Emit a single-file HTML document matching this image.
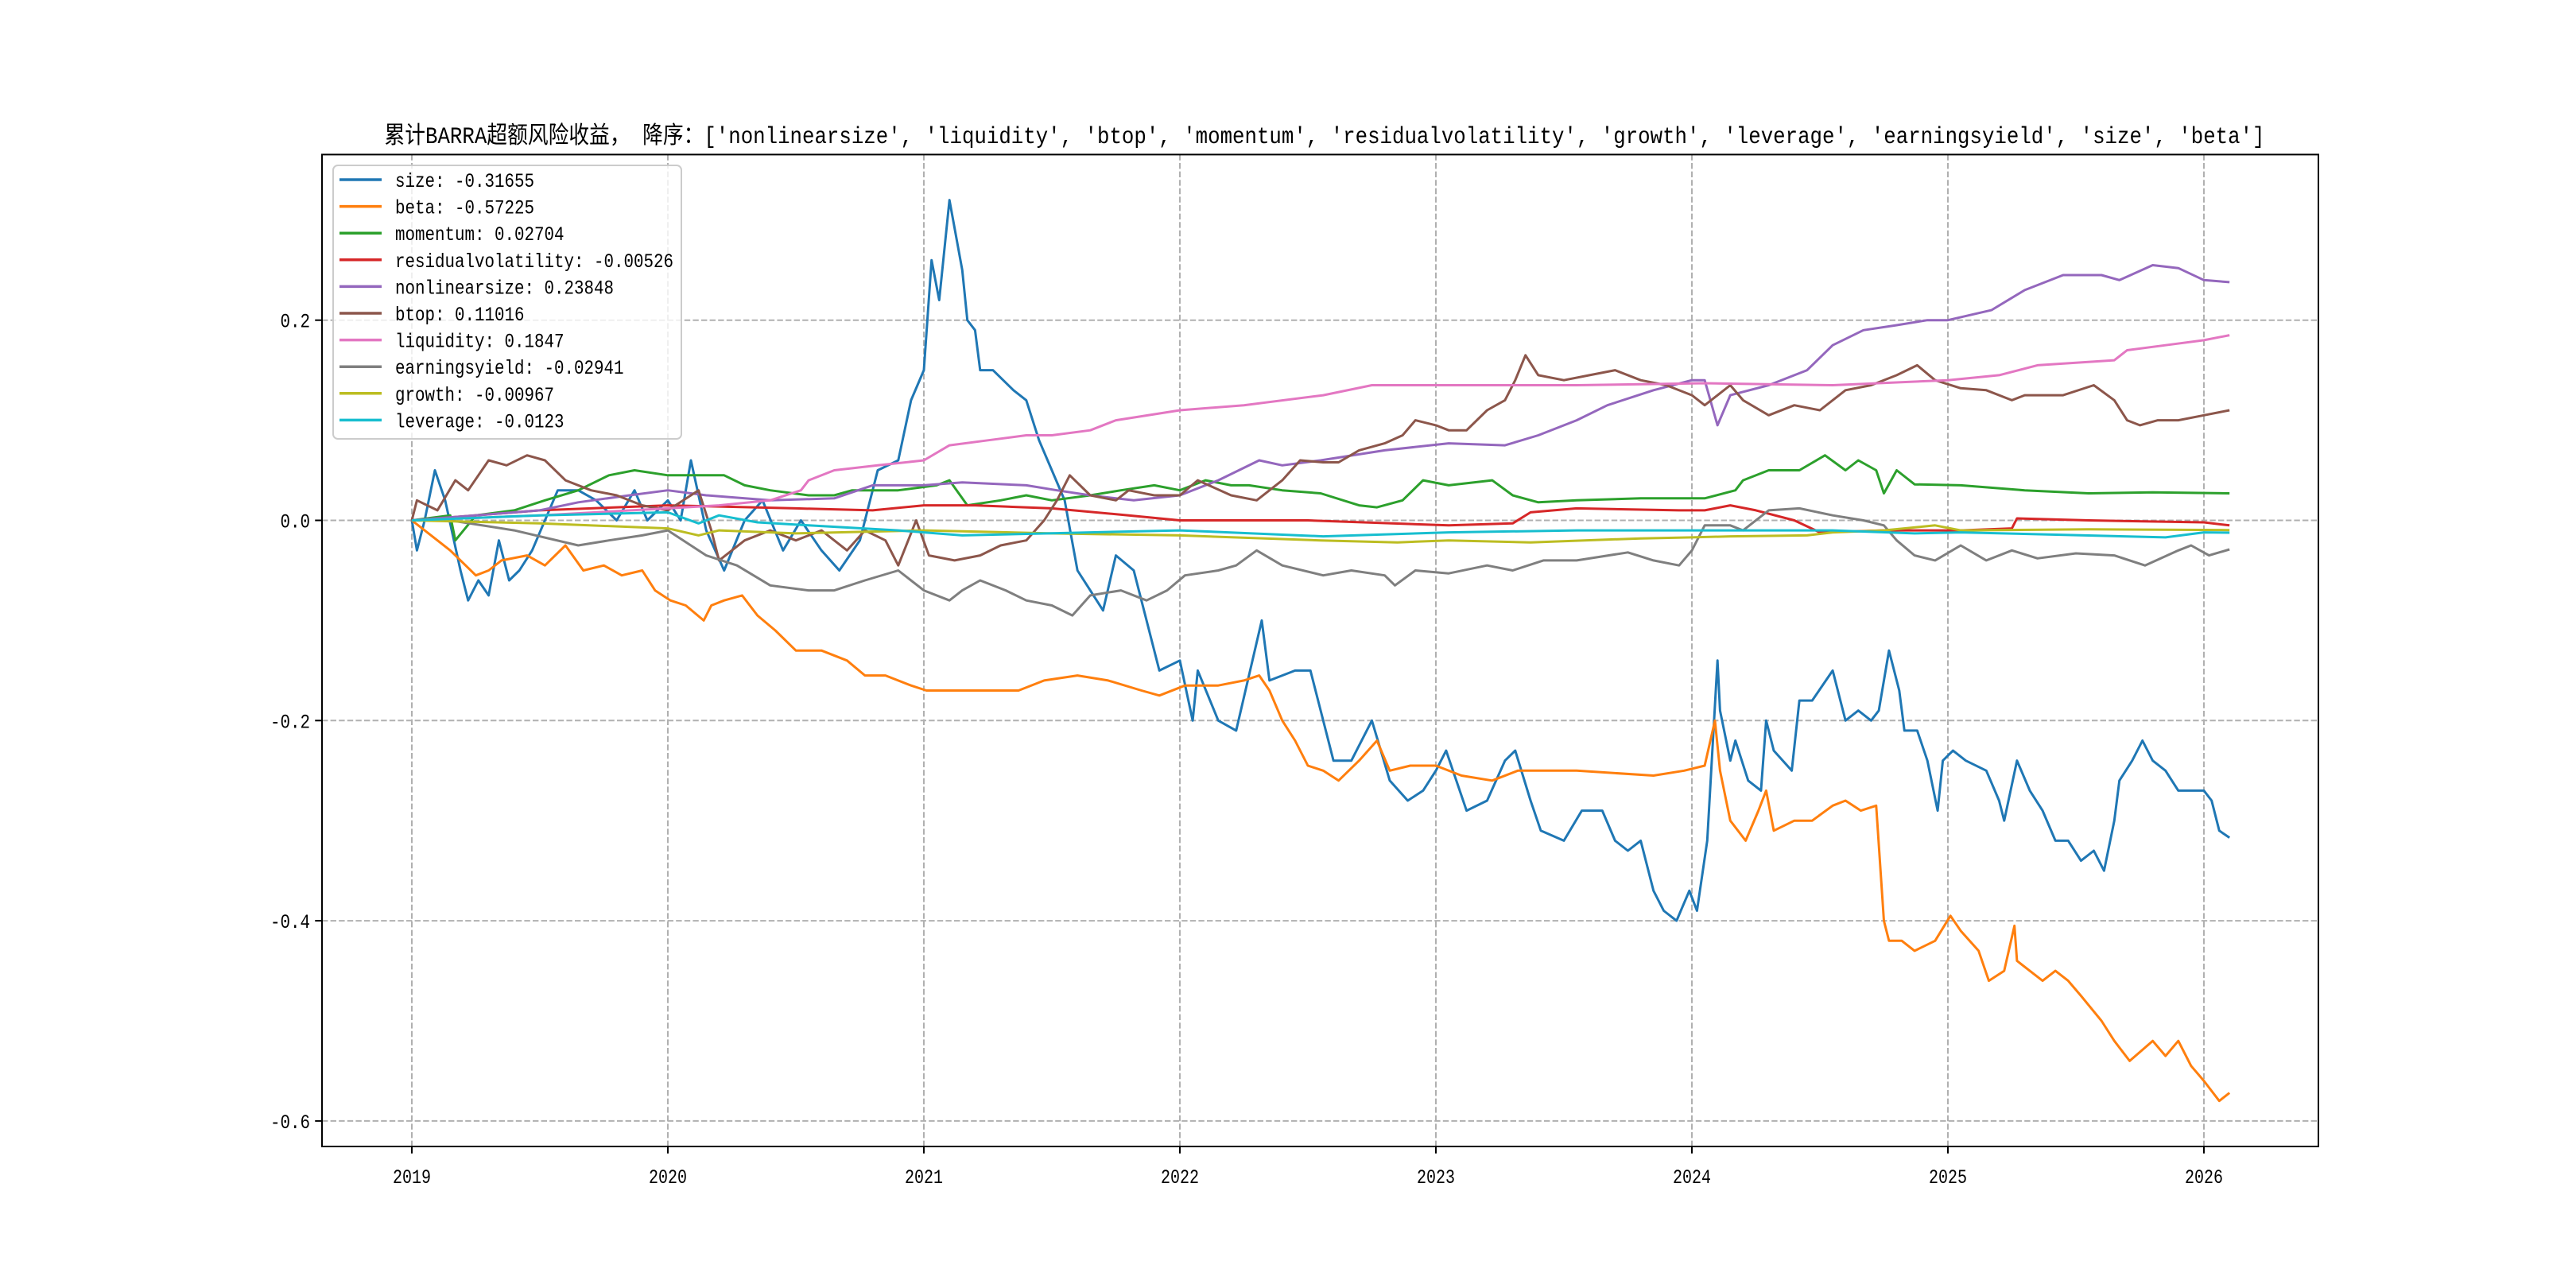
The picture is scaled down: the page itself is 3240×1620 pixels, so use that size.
<!DOCTYPE html>
<html><head><meta charset="utf-8"><style>
html,body{margin:0;padding:0;background:#fff;}
svg{display:block;}
text{font-family:"Liberation Mono","WenQuanYi Zen Hei","Noto Sans CJK SC",monospace;}
</style></head><body>
<svg id="chart" width="3240" height="1620" viewBox="0 0 3240 1620" xmlns="http://www.w3.org/2000/svg">
<rect x="0" y="0" width="3240" height="1620" fill="#fff"/>
<g id="grid"></g>
<g id="series"></g>
<rect x="405" y="194.4" width="2511" height="1247.6" fill="none" stroke="#000" stroke-width="2"/>
<g id="ticks"></g>
<text x="1666" y="180" font-size="30" text-anchor="middle" textLength="2365" lengthAdjust="spacingAndGlyphs">累计BARRA超额风险收益， 降序：['nonlinearsize', 'liquidity', 'btop', 'momentum', 'residualvolatility', 'growth', 'leverage', 'earningsyield', 'size', 'beta']</text>
<g id="legend"></g>
</svg>
<script>
const xTicks = [2019,2020,2021,2022,2023,2024,2025,2026];
const yTicks = [-0.6,-0.4,-0.2,0.0,0.2];
const yTickLabels = ['-0.6','-0.4','-0.2','0.0','0.2'];
const seriesNames = ['size','beta','momentum','residualvolatility','nonlinearsize','btop','liquidity','earningsyield','growth','leverage'];
const seriesColors = ['#1f77b4','#ff7f0e','#2ca02c','#d62728','#9467bd','#8c564b','#e377c2','#7f7f7f','#bcbd22','#17becf'];
const finalLabels = ['-0.31655','-0.57225','0.02704','-0.00526','0.23848','0.11016','0.1847','-0.02941','-0.00967','-0.0123'];

const sizeT = [2019,2019.02,2019.05,2019.09,2019.13,2019.19,2019.22,2019.26,2019.3,2019.34,2019.38,2019.42,2019.47,2019.52,2019.57,2019.65,2019.72,2019.8,2019.87,2019.92,2020.0,2020.05,2020.09,2020.15,2020.22,2020.3,2020.37,2020.45,2020.52,2020.6,2020.67,2020.75,2020.82,2020.9,2020.95,2021.0,2021.03,2021.06,2021.1,2021.15,2021.17,2021.2,2021.22,2021.27,2021.35,2021.4,2021.45,2021.5,2021.55,2021.6,2021.65,2021.7,2021.75,2021.82,2021.87,2021.92,2022.0,2022.05,2022.07,2022.15,2022.22,2022.32,2022.35,2022.45,2022.51,2022.56,2022.6,2022.67,2022.75,2022.82,2022.89,2022.95,2023.0,2023.04,2023.12,2023.2,2023.27,2023.31,2023.37,2023.41,2023.5,2023.57,2023.65,2023.7,2023.75,2023.8,2023.85,2023.89,2023.94,2023.99,2024.02,2024.06,2024.1,2024.11,2024.15,2024.17,2024.22,2024.27,2024.29,2024.32,2024.39,2024.42,2024.47,2024.55,2024.6,2024.65,2024.7,2024.73,2024.77,2024.81,2024.83,2024.88,2024.92,2024.96,2024.98,2025.02,2025.07,2025.15,2025.2,2025.22,2025.27,2025.32,2025.37,2025.42,2025.47,2025.52,2025.57,2025.61,2025.65,2025.67,2025.72,2025.76,2025.8,2025.85,2025.9,2025.95,2026.0,2026.03,2026.06,2026.1];
const sizeV = [0,-0.03,0.0,0.05,0.02,-0.05,-0.08,-0.06,-0.075,-0.02,-0.06,-0.05,-0.03,0.0,0.03,0.03,0.02,0.0,0.03,0.0,0.02,0.0,0.06,-0.01,-0.05,-0.0,0.02,-0.03,0.0,-0.03,-0.05,-0.02,0.05,0.06,0.12,0.15,0.26,0.22,0.32,0.25,0.2,0.19,0.15,0.15,0.13,0.12,0.08,0.05,0.02,-0.05,-0.07,-0.09,-0.035,-0.05,-0.1,-0.15,-0.14,-0.2,-0.15,-0.2,-0.21,-0.1,-0.16,-0.15,-0.15,-0.2,-0.24,-0.24,-0.2,-0.26,-0.28,-0.27,-0.25,-0.23,-0.29,-0.28,-0.24,-0.23,-0.28,-0.31,-0.32,-0.29,-0.29,-0.32,-0.33,-0.32,-0.37,-0.39,-0.4,-0.37,-0.39,-0.32,-0.14,-0.19,-0.24,-0.22,-0.26,-0.27,-0.2,-0.23,-0.25,-0.18,-0.18,-0.15,-0.2,-0.19,-0.2,-0.19,-0.13,-0.17,-0.21,-0.21,-0.24,-0.29,-0.24,-0.23,-0.24,-0.25,-0.28,-0.3,-0.24,-0.27,-0.29,-0.32,-0.32,-0.34,-0.33,-0.35,-0.3,-0.26,-0.24,-0.22,-0.24,-0.25,-0.27,-0.27,-0.27,-0.28,-0.31,-0.317];

const betaT = [2019,2019.05,2019.15,2019.25,2019.3,2019.35,2019.45,2019.52,2019.6,2019.67,2019.75,2019.82,2019.9,2019.95,2020.01,2020.07,2020.14,2020.17,2020.22,2020.29,2020.35,2020.42,2020.5,2020.6,2020.7,2020.77,2020.85,2020.95,2021.01,2021.12,2021.2,2021.37,2021.47,2021.6,2021.72,2021.85,2021.92,2022.02,2022.15,2022.25,2022.31,2022.35,2022.4,2022.45,2022.5,2022.56,2022.62,2022.7,2022.77,2022.82,2022.9,2023.0,2023.1,2023.22,2023.32,2023.55,2023.85,2023.97,2024.05,2024.09,2024.11,2024.15,2024.21,2024.26,2024.29,2024.32,2024.4,2024.47,2024.55,2024.6,2024.66,2024.72,2024.75,2024.77,2024.82,2024.87,2024.95,2025.01,2025.05,2025.12,2025.16,2025.22,2025.26,2025.27,2025.32,2025.37,2025.42,2025.47,2025.52,2025.6,2025.65,2025.71,2025.8,2025.85,2025.9,2025.95,2026.0,2026.06,2026.1];
const betaV = [0,-0.01,-0.03,-0.055,-0.05,-0.04,-0.035,-0.045,-0.025,-0.05,-0.045,-0.055,-0.05,-0.07,-0.08,-0.085,-0.1,-0.085,-0.08,-0.075,-0.095,-0.11,-0.13,-0.13,-0.14,-0.155,-0.155,-0.165,-0.17,-0.17,-0.17,-0.17,-0.16,-0.155,-0.16,-0.17,-0.175,-0.165,-0.165,-0.16,-0.155,-0.17,-0.2,-0.22,-0.245,-0.25,-0.26,-0.24,-0.22,-0.25,-0.245,-0.245,-0.255,-0.26,-0.25,-0.25,-0.255,-0.25,-0.245,-0.2,-0.25,-0.3,-0.32,-0.29,-0.27,-0.31,-0.3,-0.3,-0.285,-0.28,-0.29,-0.285,-0.4,-0.42,-0.42,-0.43,-0.42,-0.395,-0.41,-0.43,-0.46,-0.45,-0.405,-0.44,-0.45,-0.46,-0.45,-0.46,-0.475,-0.5,-0.52,-0.54,-0.52,-0.535,-0.52,-0.545,-0.56,-0.58,-0.572];

const momentumT = [2019,2019.15,2019.17,2019.25,2019.4,2019.52,2019.65,2019.77,2019.87,2020.0,2020.1,2020.22,2020.3,2020.4,2020.55,2020.65,2020.72,2020.9,2021.05,2021.1,2021.17,2021.3,2021.4,2021.5,2021.65,2021.77,2021.9,2022.0,2022.1,2022.2,2022.27,2022.4,2022.55,2022.7,2022.77,2022.87,2022.95,2023.05,2023.22,2023.3,2023.4,2023.55,2023.8,2024.05,2024.17,2024.2,2024.3,2024.42,2024.52,2024.6,2024.65,2024.72,2024.75,2024.8,2024.87,2025.05,2025.3,2025.55,2025.8,2026.1];
const momentumV = [0,0.005,-0.02,0.005,0.01,0.02,0.03,0.045,0.05,0.045,0.045,0.045,0.035,0.03,0.025,0.025,0.03,0.03,0.035,0.04,0.015,0.02,0.025,0.02,0.025,0.03,0.035,0.03,0.04,0.035,0.035,0.03,0.027,0.015,0.013,0.02,0.04,0.035,0.04,0.025,0.018,0.02,0.022,0.022,0.03,0.04,0.05,0.05,0.065,0.05,0.06,0.05,0.027,0.05,0.036,0.035,0.03,0.027,0.028,0.027];

const resvolT = [2019,2019.5,2020.0,2020.5,2020.8,2021.0,2021.2,2021.5,2021.8,2022.0,2022.5,2023.05,2023.3,2023.37,2023.55,2023.95,2024.05,2024.15,2024.25,2024.4,2024.5,2024.75,2025.05,2025.25,2025.27,2025.55,2026.0,2026.1];
const resvolV = [0,0.01,0.015,0.012,0.01,0.015,0.015,0.012,0.005,0.0,0.0,-0.005,-0.003,0.008,0.012,0.01,0.01,0.015,0.01,0.0,-0.012,-0.01,-0.01,-0.008,0.002,0.0,-0.002,-0.005];

const nlsizeT = [2019,2019.5,2019.65,2019.85,2020.0,2020.15,2020.4,2020.65,2020.8,2021.0,2021.15,2021.4,2021.52,2021.65,2021.82,2022.0,2022.15,2022.31,2022.4,2022.55,2022.8,2023.05,2023.27,2023.4,2023.55,2023.67,2023.85,2024.0,2024.05,2024.1,2024.15,2024.3,2024.45,2024.55,2024.67,2024.8,2024.92,2025.0,2025.17,2025.3,2025.45,2025.6,2025.67,2025.8,2025.9,2026.0,2026.1];
const nlsizeV = [0,0.01,0.018,0.025,0.03,0.025,0.02,0.022,0.035,0.035,0.038,0.035,0.03,0.025,0.02,0.025,0.04,0.06,0.055,0.06,0.07,0.077,0.075,0.085,0.1,0.115,0.13,0.14,0.14,0.095,0.125,0.135,0.15,0.175,0.19,0.195,0.2,0.2,0.21,0.23,0.245,0.245,0.24,0.255,0.252,0.24,0.238];

const btopT = [2019,2019.02,2019.1,2019.17,2019.22,2019.3,2019.37,2019.45,2019.52,2019.6,2019.7,2019.8,2019.9,2020.0,2020.12,2020.17,2020.2,2020.3,2020.4,2020.5,2020.6,2020.7,2020.77,2020.85,2020.9,2020.97,2021.02,2021.12,2021.22,2021.3,2021.4,2021.47,2021.52,2021.57,2021.65,2021.75,2021.8,2021.9,2022.0,2022.07,2022.2,2022.3,2022.4,2022.47,2022.56,2022.62,2022.7,2022.8,2022.87,2022.92,2023.0,2023.05,2023.12,2023.2,2023.27,2023.31,2023.35,2023.4,2023.5,2023.6,2023.7,2023.8,2023.9,2024.0,2024.05,2024.15,2024.2,2024.3,2024.4,2024.5,2024.6,2024.7,2024.8,2024.88,2024.95,2025.05,2025.15,2025.25,2025.3,2025.45,2025.57,2025.65,2025.7,2025.75,2025.82,2025.9,2026.0,2026.1];
const btopV = [0,0.02,0.01,0.04,0.03,0.06,0.055,0.065,0.06,0.04,0.03,0.025,0.015,0.01,0.03,-0.01,-0.04,-0.02,-0.01,-0.02,-0.01,-0.03,-0.01,-0.02,-0.045,0.0,-0.035,-0.04,-0.035,-0.025,-0.02,0.0,0.02,0.045,0.025,0.02,0.03,0.025,0.025,0.04,0.025,0.02,0.04,0.06,0.058,0.058,0.07,0.077,0.085,0.1,0.095,0.09,0.09,0.11,0.12,0.14,0.165,0.145,0.14,0.145,0.15,0.14,0.135,0.125,0.115,0.135,0.12,0.105,0.115,0.11,0.13,0.135,0.145,0.155,0.14,0.132,0.13,0.12,0.125,0.125,0.135,0.12,0.1,0.095,0.1,0.1,0.105,0.11];

const liqT = [2019,2019.5,2020.0,2020.2,2020.4,2020.52,2020.55,2020.65,2020.82,2021.0,2021.1,2021.25,2021.4,2021.5,2021.65,2021.75,2022.0,2022.25,2022.56,2022.75,2023.0,2023.55,2024.05,2024.55,2025.0,2025.2,2025.35,2025.65,2025.7,2025.85,2026.0,2026.1];
const liqV = [0,0.005,0.012,0.015,0.02,0.03,0.04,0.05,0.055,0.06,0.075,0.08,0.085,0.085,0.09,0.1,0.11,0.115,0.125,0.135,0.135,0.135,0.137,0.135,0.14,0.145,0.155,0.16,0.17,0.175,0.18,0.185];

const eyT = [2019,2019.15,2019.4,2019.65,2019.77,2019.9,2020.0,2020.15,2020.27,2020.4,2020.55,2020.65,2020.77,2020.9,2021.0,2021.1,2021.15,2021.22,2021.32,2021.4,2021.5,2021.58,2021.65,2021.77,2021.87,2021.95,2022.02,2022.15,2022.22,2022.3,2022.4,2022.56,2022.67,2022.8,2022.84,2022.92,2023.05,2023.2,2023.3,2023.42,2023.55,2023.75,2023.85,2023.95,2024.0,2024.05,2024.15,2024.2,2024.3,2024.42,2024.55,2024.67,2024.75,2024.8,2024.87,2024.95,2025.05,2025.15,2025.25,2025.35,2025.5,2025.65,2025.77,2025.9,2025.95,2026.02,2026.1];
const eyV = [0,0.0,-0.01,-0.025,-0.02,-0.015,-0.01,-0.035,-0.045,-0.065,-0.07,-0.07,-0.06,-0.05,-0.07,-0.08,-0.07,-0.06,-0.07,-0.08,-0.085,-0.095,-0.075,-0.07,-0.08,-0.07,-0.055,-0.05,-0.045,-0.03,-0.045,-0.055,-0.05,-0.055,-0.065,-0.05,-0.053,-0.045,-0.05,-0.04,-0.04,-0.032,-0.04,-0.045,-0.03,-0.005,-0.005,-0.01,0.01,0.012,0.005,0.0,-0.005,-0.02,-0.035,-0.04,-0.025,-0.04,-0.03,-0.038,-0.033,-0.035,-0.045,-0.03,-0.025,-0.035,-0.029];

const growthT = [2019,2019.5,2020.0,2020.12,2020.2,2020.5,2021.0,2021.5,2022.0,2022.55,2022.85,2023.05,2023.37,2023.8,2024.0,2024.15,2024.45,2024.55,2024.75,2024.95,2025.05,2025.55,2026.1];
const growthV = [0,-0.003,-0.008,-0.015,-0.01,-0.013,-0.01,-0.013,-0.015,-0.02,-0.022,-0.02,-0.022,-0.018,-0.017,-0.016,-0.015,-0.012,-0.01,-0.005,-0.01,-0.009,-0.0097];

const levT = [2019,2019.5,2020.0,2020.12,2020.2,2020.35,2020.55,2020.9,2021.0,2021.15,2021.65,2022.0,2022.56,2023.05,2023.55,2024.55,2024.87,2025.05,2025.85,2026.0,2026.1];
const levV = [0,0.005,0.008,-0.003,0.005,-0.002,-0.005,-0.01,-0.012,-0.015,-0.012,-0.01,-0.016,-0.012,-0.01,-0.01,-0.013,-0.012,-0.017,-0.012,-0.0123];

const allT = [sizeT,betaT,momentumT,resvolT,nlsizeT,btopT,liqT,eyT,growthT,levT];
const allV = [sizeV,betaV,momentumV,resvolV,nlsizeV,btopV,liqV,eyV,growthV,levV];

const L=405,R=2916,T=194.4,B=1442;
const x0=518, pxPerYear=322;
function sx(t){return x0+(t-2019)*pxPerYear;}
function sy(v){return 654.5 - v/0.2*251.8;}
const NS='http://www.w3.org/2000/svg';
function mk(tag,attrs,parent){const e=document.createElementNS(NS,tag);for(const k in attrs)e.setAttribute(k,attrs[k]);parent.appendChild(e);return e;}

const grid=document.getElementById('grid'), ticks=document.getElementById('ticks');
xTicks.forEach(yr=>{
  const x=sx(yr);
  const g=mk('line',{x1:x,y1:T,x2:x,y2:B,stroke:'#b0b0b0','stroke-width':2,'stroke-dasharray':'7.4,3.2'},grid);
  
  
  const tk=mk('line',{x1:x,y1:B,x2:x,y2:B+8.75,stroke:'#000','stroke-width':2},ticks);
  
  
  const tx=mk('text',{x:x,y:B+46,'font-size':25,'text-anchor':'middle',textLength:48,lengthAdjust:'spacingAndGlyphs'},ticks);
  tx.textContent=String(yr);
  
  
});
yTicks.forEach((v,i)=>{
  const y=sy(v);
  const g=mk('line',{x1:L,y1:y,x2:R,y2:y,stroke:'#b0b0b0','stroke-width':2,'stroke-dasharray':'7.4,3.2'},grid);
  
  
  const tk=mk('line',{x1:L-8.75,y1:y,x2:L,y2:y,stroke:'#000','stroke-width':2},ticks);
  
  
  const lab=yTickLabels[i];
  const tx=mk('text',{x:L-15,y:y+9,'font-size':25,'text-anchor':'end',textLength:lab.length*12.5,lengthAdjust:'spacingAndGlyphs'},ticks);
  tx.textContent=lab;
  
  
});

const sg=document.getElementById('series');
allT.forEach((ts,i)=>{
  const vs=allV[i];
  const d=ts.map((t,j)=>(j?'L':'M')+sx(t).toFixed(1)+','+sy(vs[j]).toFixed(1)).join(' ');
  const p=mk('path',{d:d,fill:'none',stroke:seriesColors[i],'stroke-width':3,'stroke-linejoin':'round'},sg);
  
  
});

const lg=document.getElementById('legend');
const box=mk('rect',{x:419,y:208,width:438,height:344,rx:6,fill:'#fff','fill-opacity':0.8,stroke:'#cccccc','stroke-width':2},lg);


seriesNames.forEach((n,i)=>{
  const y=226+i*33.6;
  const g=mk('g',{},lg);
  
  
  mk('line',{x1:427,y1:y,x2:480,y2:y,stroke:seriesColors[i],'stroke-width':3.5},g);
  const label=n+': '+finalLabels[i];
  const tx=mk('text',{x:497,y:y+9,'font-size':25,textLength:(label.length*12.5),lengthAdjust:'spacingAndGlyphs'},g);
  tx.textContent=label;
});
</script>
</body></html>
